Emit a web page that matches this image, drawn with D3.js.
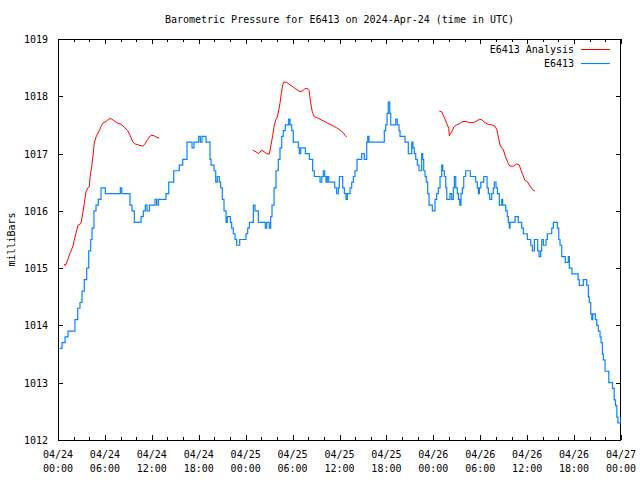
<!DOCTYPE html>
<html>
<head>
<meta charset="utf-8">
<script src="https://cdn.jsdelivr.net/npm/d3@7"></script>
<style>
  html, body { margin: 0; padding: 0; background: #fff; }
  svg { display: block; }
  text { font-family: "DejaVu Sans Mono", "Liberation Mono", monospace; font-size: 10px; fill: #000; }
</style>
</head>
<body>
<svg id="chart" width="640" height="480"></svg>
<script>
// ---- Data (hours since 2024-04-24 00:00 UTC, millibars) ----
const startTime = "2024-04-24T00:00:00Z";
const endTime = "2024-04-27T00:00:00Z";
const chartTitle = "Barometric Pressure for E6413 on 2024-Apr-24 (time in UTC)";
const yLabel = "milliBars";
const seriesNames = ["E6413 Analysis", "E6413"];
const yTicks = [1012, 1013, 1014, 1015, 1016, 1017, 1018, 1019];
const xLabelHours = [0, 6, 12, 18, 24, 30, 36, 42, 48, 54, 60, 66, 72];
const xMinorHours = d3.range(0, 73, 2);

const observed = [
  [0.2,1013.6],[0.51,1013.7],[0.90,1013.8],[1.28,1013.9],[1.96,1013.9],[2.17,1014.1],[2.52,1014.3],[2.81,1014.4],
  [3.07,1014.6],[3.36,1014.8],[3.67,1015.0],[3.93,1015.3],[4.18,1015.5],[4.35,1015.7],[4.60,1016.0],[4.86,1016.1],
  [5.15,1016.2],[5.50,1016.4],[5.92,1016.4],[6.05,1016.3],[7.76,1016.3],[7.97,1016.4],[8.15,1016.3],[8.91,1016.3],
  [9.21,1016.1],[9.46,1016.0],[9.76,1015.8],[10.23,1015.8],[10.62,1015.9],[10.91,1016.0],[11.17,1016.1],[11.38,1016.0],
  [11.68,1016.1],[12.24,1016.1],[12.41,1016.2],[12.62,1016.1],[12.83,1016.2],[13.52,1016.2],[13.81,1016.3],[14.16,1016.5],
  [14.50,1016.5],[14.80,1016.7],[15.18,1016.7],[15.51,1016.8],[15.95,1016.9],[16.28,1016.9],[16.50,1017.2],[16.72,1017.2],
  [16.97,1017.2],[17.14,1017.1],[17.39,1017.2],[17.99,1017.3],[18.20,1017.2],[18.42,1017.3],[18.80,1017.3],[18.93,1017.2],
  [19.22,1017.2],[19.44,1016.9],[19.57,1016.8],[19.78,1016.8],[19.95,1016.7],[20.17,1016.5],[20.37,1016.6],[20.63,1016.5],
  [20.81,1016.4],[21.01,1016.2],[21.23,1016.0],[21.49,1015.8],[21.65,1015.9],[21.91,1015.9],[22.04,1015.8],[22.21,1015.7],
  [22.42,1015.6],[22.64,1015.5],[22.85,1015.4],[23.11,1015.4],[23.24,1015.5],[23.79,1015.5],[24.04,1015.6],[24.26,1015.7],
  [24.47,1015.8],[24.77,1015.8],[24.98,1016.1],[25.19,1016.0],[25.41,1016.0],[25.62,1015.8],[26.26,1015.8],[26.51,1015.7],
  [26.69,1015.8],[26.86,1015.8],[27.02,1015.7],[27.20,1015.9],[27.37,1016.1],[27.63,1016.4],[27.88,1016.7],[28.17,1016.9],
  [28.39,1017.1],[28.61,1017.3],[28.81,1017.4],[29.07,1017.5],[29.33,1017.5],[29.50,1017.6],[29.67,1017.5],[29.89,1017.4],
  [30.09,1017.2],[30.53,1017.2],[30.73,1017.1],[30.86,1017.0],[31.04,1017.1],[31.46,1017.1],[31.63,1017.0],[32.01,1017.0],
  [32.14,1016.9],[32.36,1016.9],[32.57,1016.7],[32.78,1016.6],[33.29,1016.6],[33.51,1016.5],[33.73,1016.6],[33.93,1016.7],
  [34.11,1016.6],[34.28,1016.5],[34.44,1016.6],[34.62,1016.5],[35.13,1016.5],[35.39,1016.4],[35.64,1016.3],[35.85,1016.4],
  [35.98,1016.6],[36.19,1016.6],[36.41,1016.4],[36.62,1016.3],[36.83,1016.2],[37.00,1016.3],[37.26,1016.3],[37.35,1016.4],
  [37.56,1016.5],[37.77,1016.6],[37.98,1016.7],[38.24,1016.9],[38.62,1016.9],[38.84,1017.0],[39.05,1017.0],[39.17,1016.9],
  [39.35,1016.9],[39.48,1017.2],[39.61,1017.3],[39.77,1017.2],[41.48,1017.2],[41.73,1017.4],[41.91,1017.5],[42.08,1017.7],
  [42.24,1017.9],[42.37,1017.9],[42.43,1017.7],[42.55,1017.5],[43.01,1017.5],[43.19,1017.6],[43.39,1017.5],[43.61,1017.4],
  [43.74,1017.3],[44.16,1017.3],[44.38,1017.2],[44.60,1017.2],[44.80,1017.0],[45.06,1017.0],[45.24,1017.2],[45.40,1017.1],
  [45.57,1017.0],[45.75,1016.9],[45.95,1016.8],[46.17,1016.7],[46.34,1016.7],[46.51,1017.0],[46.64,1016.9],[46.77,1016.7],
  [46.94,1016.6],[47.10,1016.5],[47.28,1016.3],[47.45,1016.1],[47.70,1016.1],[47.87,1016.0],[48.00,1016.0],[48.22,1016.2],
  [48.43,1016.3],[48.64,1016.4],[48.86,1016.6],[49.07,1016.8],[49.20,1016.7],[49.41,1016.6],[49.59,1016.4],[49.72,1016.2],
  [50.01,1016.2],[50.13,1016.3],[50.35,1016.2],[50.56,1016.4],[50.69,1016.6],[50.87,1016.4],[51.07,1016.3],[51.20,1016.2],
  [51.38,1016.1],[51.54,1016.3],[51.71,1016.4],[51.89,1016.6],[52.14,1016.7],[52.40,1016.7],[52.57,1016.7],[52.73,1016.6],
  [53.17,1016.6],[53.42,1016.5],[53.63,1016.4],[53.76,1016.3],[53.89,1016.4],[54.07,1016.5],[54.23,1016.5],[54.45,1016.6],
  [54.70,1016.6],[54.87,1016.4],[55.03,1016.3],[55.21,1016.2],[55.47,1016.3],[55.67,1016.4],[55.80,1016.5],[56.02,1016.4],
  [56.19,1016.3],[56.44,1016.1],[56.62,1016.1],[56.75,1016.2],[56.87,1016.1],[57.04,1016.1],[57.26,1016.0],[57.46,1015.9],
  [57.59,1015.8],[57.72,1015.7],[57.81,1015.8],[58.23,1015.8],[58.45,1015.9],[58.74,1015.9],[58.87,1015.8],[59.09,1015.8],
  [59.30,1015.7],[59.51,1015.6],[59.86,1015.6],[60.02,1015.5],[60.28,1015.5],[60.46,1015.4],[60.66,1015.3],[60.79,1015.3],
  [60.92,1015.5],[61.22,1015.5],[61.35,1015.3],[61.52,1015.2],[61.73,1015.3],[61.86,1015.5],[62.07,1015.4],[62.19,1015.4],
  [62.41,1015.5],[62.58,1015.6],[62.92,1015.6],[63.14,1015.7],[63.35,1015.8],[63.65,1015.8],[63.86,1015.7],[64.04,1015.5],
  [64.20,1015.4],[64.42,1015.2],[64.71,1015.2],[64.88,1015.1],[65.06,1015.1],[65.26,1015.2],[65.39,1015.0],[65.57,1015.0],
  [65.74,1014.9],[66.34,1014.9],[66.51,1014.8],[66.67,1014.7],[66.98,1014.7],[67.18,1014.8],[67.40,1014.8],[67.62,1014.7],
  [67.82,1014.5],[67.95,1014.4],[68.13,1014.2],[68.26,1014.1],[68.39,1014.2],[68.59,1014.2],[68.72,1014.1],[68.90,1014.0],
  [69.10,1013.9],[69.32,1013.8],[69.45,1013.7],[69.62,1013.5],[69.74,1013.4],[69.96,1013.2],[70.26,1013.2],[70.44,1013.0],
  [70.70,1013.0],[70.91,1012.9],[71.13,1012.7],[71.30,1012.6],[71.47,1012.4],[71.60,1012.3],[71.81,1012.3],[71.99,1012.4]
];

const analysisPart1 = [
  [0.81,1015.07],[0.93,1015.04],[1.24,1015.14],[1.53,1015.26],[1.88,1015.37],[2.08,1015.49],[2.30,1015.61],[2.56,1015.75],
  [2.94,1015.78],[3.16,1015.96],[3.36,1016.13],[3.58,1016.33],[3.80,1016.40],[4.00,1016.42],[4.13,1016.63],[4.31,1016.77],
  [4.44,1016.92],[4.64,1017.18],[4.86,1017.29],[5.21,1017.38],[5.50,1017.47],[5.79,1017.54],[6.14,1017.56],[6.48,1017.60],
  [6.78,1017.61],[7.20,1017.57],[7.64,1017.53],[8.06,1017.51],[8.48,1017.46],[8.91,1017.40],[9.21,1017.32],[9.55,1017.21],
  [9.81,1017.17],[10.32,1017.15],[10.83,1017.13],[11.09,1017.16],[11.47,1017.25],[11.89,1017.32],[12.32,1017.31],[12.66,1017.28],
  [12.96,1017.27]
];
const analysisPart2 = [
  [24.90,1017.06],[25.32,1017.03],[25.67,1017.00],[26.05,1017.06],[26.38,1017.03],[26.69,1017.00],[27.02,1016.99],[27.24,1017.15],
  [27.46,1017.32],[27.63,1017.47],[27.84,1017.59],[28.05,1017.64],[28.23,1017.76],[28.39,1017.88],[28.56,1018.05],[28.74,1018.20],
  [28.90,1018.25],[29.25,1018.24],[29.67,1018.20],[30.09,1018.16],[30.53,1018.12],[30.95,1018.08],[31.30,1018.10],[31.59,1018.13],
  [31.88,1018.14],[32.10,1018.10],[32.32,1017.88],[32.52,1017.73],[32.78,1017.64],[33.09,1017.63],[33.51,1017.60],[33.93,1017.57],
  [34.36,1017.54],[34.79,1017.51],[35.21,1017.48],[35.64,1017.45],[36.07,1017.41],[36.41,1017.37],[36.71,1017.32],[36.92,1017.29]
];
const analysisPart3 = [
  [48.77,1017.74],[49.07,1017.73],[49.37,1017.64],[49.71,1017.53],[49.97,1017.44],[50.04,1017.31],[50.35,1017.38],[50.65,1017.47],
  [50.99,1017.50],[51.32,1017.52],[51.76,1017.56],[52.18,1017.56],[52.60,1017.54],[53.11,1017.54],[53.55,1017.57],[53.88,1017.60],
  [54.19,1017.59],[54.61,1017.54],[55.03,1017.51],[55.47,1017.50],[55.89,1017.48],[56.11,1017.42],[56.31,1017.29],[56.53,1017.15],
  [56.75,1017.09],[56.95,1017.07],[57.17,1016.97],[57.39,1016.89],[57.59,1016.82],[57.81,1016.78],[58.23,1016.78],[58.66,1016.82],
  [58.99,1016.80],[59.21,1016.71],[59.43,1016.63],[59.73,1016.53],[60.02,1016.51],[60.28,1016.45],[60.58,1016.39],[60.88,1016.35],
  [61.00,1016.35]
];
const analysisSegments = [analysisPart1, analysisPart2, analysisPart3];

// ---- Layout ----
const L = 58, R = 621, T = 39, B = 440;
const t0 = new Date(startTime);
const toDate = h => new Date(t0.getTime() + h * 3600000);

const svg = d3.select("#chart");
const x = d3.scaleUtc().domain([new Date(startTime), new Date(endTime)]).range([L, R]);
const y = d3.scaleLinear().domain([1012, 1019]).range([B, T]);

svg.append("defs").append("clipPath").attr("id", "clip")
  .append("rect").attr("x", L).attr("y", T).attr("width", R - L).attr("height", B - T);

// Title
svg.append("text").attr("x", (L + R) / 2).attr("y", 23).attr("text-anchor", "middle").text(chartTitle);

// Y axis label
svg.append("text").attr("transform", `translate(15,${(T + B) / 2}) rotate(-90)`)
  .attr("text-anchor", "middle").text(yLabel);

const g = svg.append("g").attr("shape-rendering", "crispEdges");

// Y ticks (left & right, inward)
const yAxisL = d3.axisLeft(y).tickValues(yTicks).tickSize(-5).tickPadding(10).tickFormat(d3.format("d"));
const gyl = g.append("g").attr("transform", `translate(${L},0)`).call(yAxisL);
const yAxisR = d3.axisRight(y).tickValues(yTicks).tickSize(-5).tickFormat("");
const gyr = g.append("g").attr("transform", `translate(${R},0)`).call(yAxisR);

// X ticks: minor every 2h, major every 6h, bottom & top
const xMinor = xMinorHours.filter(h => h % 6 !== 0).map(toDate);
const xMajor = xLabelHours.map(toDate);
const gxb = g.append("g").attr("transform", `translate(0,${B})`)
  .call(d3.axisBottom(x).tickValues(xMinor).tickSize(-3).tickFormat(""));
const gxb2 = g.append("g").attr("transform", `translate(0,${B})`)
  .call(d3.axisBottom(x).tickValues(xMajor).tickSize(-5).tickFormat(""));
const gxt = g.append("g").attr("transform", `translate(0,${T})`)
  .call(d3.axisTop(x).tickValues(xMinor).tickSize(-3).tickFormat(""));
const gxt2 = g.append("g").attr("transform", `translate(0,${T})`)
  .call(d3.axisTop(x).tickValues(xMajor).tickSize(-5).tickFormat(""));

[gyl, gyr, gxb, gxb2, gxt, gxt2].forEach(a => {
  a.select(".domain").remove();
  a.selectAll("line").attr("stroke", "#000");
  a.selectAll("text").attr("font-family", "DejaVu Sans Mono, monospace").attr("font-size", 10).attr("fill", "#000");
});
gyl.selectAll("text").attr("dy", "0.35em");

// X labels, two lines
const fmtD = d3.utcFormat("%m/%d"), fmtT = d3.utcFormat("%H:%M");
const xl = svg.append("g");
xMajor.forEach(d => {
  const t = xl.append("text").attr("x", x(d)).attr("y", 458).attr("text-anchor", "middle");
  t.append("tspan").attr("x", x(d)).text(fmtD(d));
  t.append("tspan").attr("x", x(d)).attr("dy", 14).text(fmtT(d));
});

// Frame
g.append("rect").attr("x", L + 0.5).attr("y", T + 0.5).attr("width", R - L - 1).attr("height", B - T)
  .attr("fill", "none").attr("stroke", "#000");

// Lines
const blue = "#0a84f5", red = "#ff0000";
const plot = svg.append("g").attr("clip-path", "url(#clip)");
const lineStep = d3.line().x(d => x(toDate(d[0]))).y(d => y(d[1])).curve(d3.curveStepAfter);
const lineLin = d3.line().x(d => x(toDate(d[0]))).y(d => y(d[1]));

analysisSegments.forEach(seg => {
  plot.append("path").datum(seg).attr("d", lineLin).attr("fill", "none")
    .attr("stroke", red).attr("stroke-width", 1);
});
plot.append("path").datum(observed).attr("d", lineStep).attr("fill", "none")
  .attr("stroke", blue).attr("stroke-width", 1.2);

// Legend
const leg = svg.append("g");
leg.append("text").attr("x", 574).attr("y", 53).attr("text-anchor", "end").text(seriesNames[0]);
leg.append("line").attr("x1", 581).attr("x2", 610).attr("y1", 49.5).attr("y2", 49.5).attr("stroke", red).attr("stroke-width", 1);
leg.append("text").attr("x", 574).attr("y", 67).attr("text-anchor", "end").text(seriesNames[1]);
leg.append("line").attr("x1", 581).attr("x2", 610).attr("y1", 63.5).attr("y2", 63.5).attr("stroke", blue).attr("stroke-width", 1.2);
</script>
</body>
</html>
